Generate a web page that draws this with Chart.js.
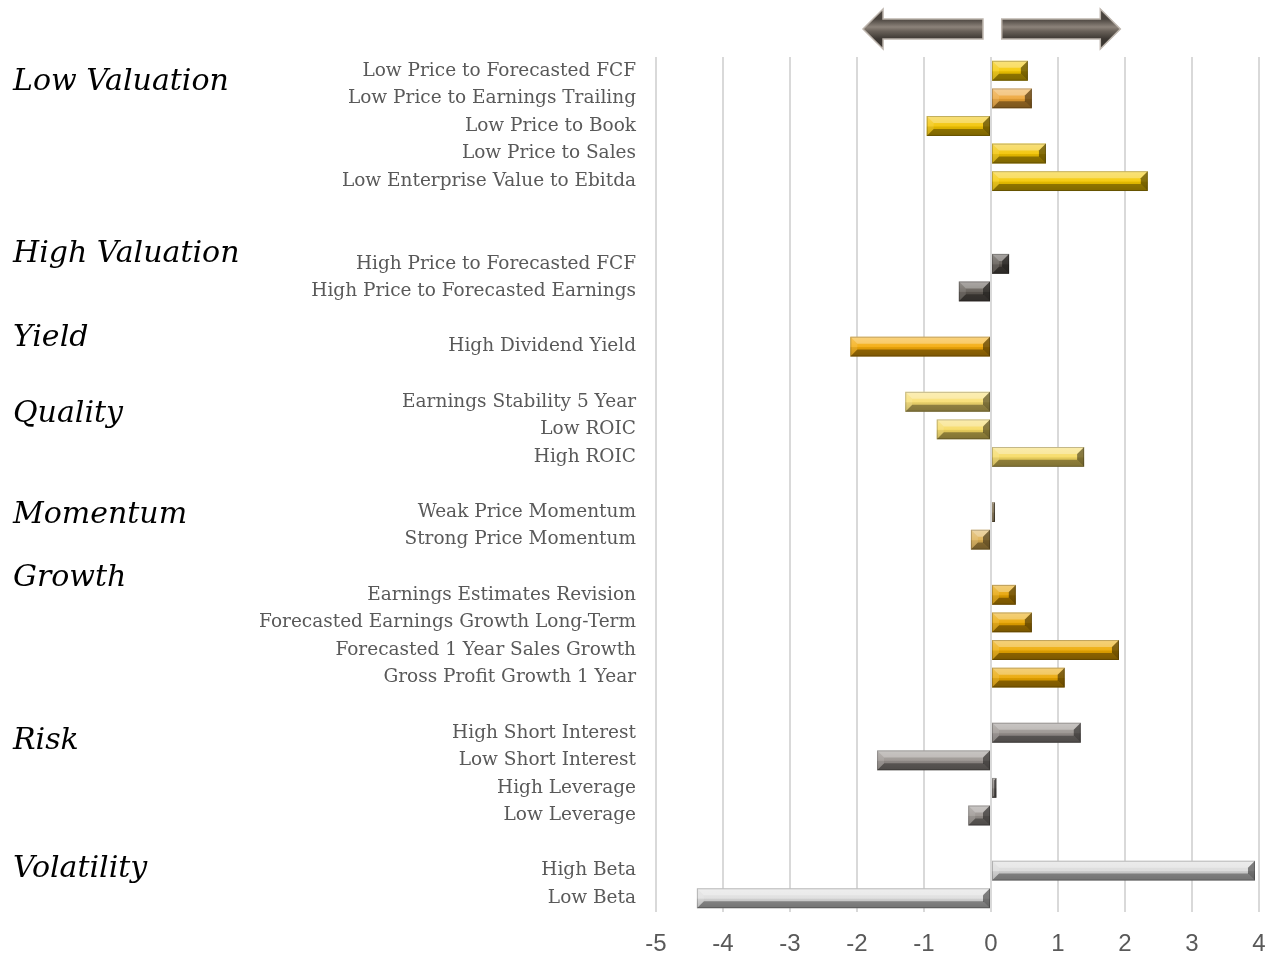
<!DOCTYPE html>
<html lang="en">
<head>
    <meta charset="UTF-8">
    <title>Factor Exposures</title>
    <script src="https://cdn.jsdelivr.net/npm/chart.js"></script>
    <style>
        html, body {
            margin: 0;
            padding: 0;
            background-color: #ffffff;
        }

        .chart-wrap {
            position: relative;
            width: 1266px;
            height: 956px;
        }
    </style>
</head>
<body>
    <div class="chart-wrap">
        <canvas id="factor-chart"></canvas>
    </div>

    <script>
        // Row labels (empty strings are spacer rows)
        const factorLabels = [
            "Low Price to Forecasted FCF",
            "Low Price to Earnings Trailing",
            "Low Price to Book",
            "Low Price to Sales",
            "Low Enterprise Value to Ebitda",
            "",
            "",
            "High Price to Forecasted FCF",
            "High Price to Forecasted Earnings",
            "",
            "High Dividend Yield",
            "",
            "Earnings Stability 5 Year",
            "Low ROIC",
            "High ROIC",
            "",
            "Weak Price Momentum",
            "Strong Price Momentum",
            "",
            "Earnings Estimates Revision",
            "Forecasted Earnings Growth Long-Term",
            "Forecasted 1 Year Sales Growth",
            "Gross Profit Growth 1 Year",
            "",
            "High Short Interest",
            "Low Short Interest",
            "High Leverage",
            "Low Leverage",
            "",
            "High Beta",
            "Low Beta"
        ];

        // Exposure values
        const factorValues = [
            0.55, 0.61, -0.96, 0.82, 2.34,
            null, null,
            0.27, -0.48,
            null,
            -2.1,
            null,
            -1.28, -0.81, 1.39,
            null,
            0.06, -0.3,
            null,
            0.37, 0.61, 1.91, 1.1,
            null,
            1.34, -1.7, 0.08, -0.34,
            null,
            3.94, -4.39
        ];

        const barColors = [
            "#f5c800", "#eda436", "#f2c300", "#f2c300", "#f5c800",
            null, null,
            "#57514b", "#5e5852",
            null,
            "#f4aa08",
            null,
            "#f8de70", "#f6da62", "#f6da62",
            null,
            "#a8936a", "#dcaf52",
            null,
            "#e6a200", "#eaa600", "#eda900", "#eaa600",
            null,
            "#97918d", "#97918d", "#86807c", "#97918d",
            null,
            "#dadada", "#dedede"
        ];

        // Group headings and the row they sit against
        const groupNames = ["Low Valuation", "High Valuation", "Yield", "Quality", "Momentum", "Growth", "Risk", "Volatility"];
        const groupRows = [0.4, 6.65, 9.7, 12.45, 16.1, 18.4, 24.3, 28.95];

        const xTicks = [-5, -4, -3, -2, -1, 0, 1, 2, 3, 4];

        // Bevel overlay so the bars look like the embossed Excel bars
        const bevelPlugin = {
            id: "bevel",
            afterDatasetsDraw(chart) {
                const ctx = chart.ctx;
                const meta = chart.getDatasetMeta(0);
                meta.data.forEach((bar, i) => {
                    if (factorValues[i] === null) return;
                    const p = bar.getProps(["x", "y", "base", "height"], true);
                    const l = Math.min(p.x, p.base);
                    const r = Math.max(p.x, p.base);
                    const t = p.y - p.height / 2;
                    const b = p.y + p.height / 2;
                    const bv = Math.min(7, (r - l) / 2, (b - t) / 2);
                    ctx.save();
                    // face shading
                    const g = ctx.createLinearGradient(0, t, 0, b);
                    g.addColorStop(0, "rgba(255,255,255,0.25)");
                    g.addColorStop(0.5, "rgba(255,255,255,0.08)");
                    g.addColorStop(0.55, "rgba(0,0,0,0.08)");
                    g.addColorStop(1, "rgba(0,0,0,0.2)");
                    ctx.fillStyle = g;
                    ctx.fillRect(l, t, r - l, b - t);
                    const poly = (pts, fill) => {
                        ctx.beginPath();
                        ctx.moveTo(pts[0][0], pts[0][1]);
                        pts.slice(1).forEach(q => ctx.lineTo(q[0], q[1]));
                        ctx.closePath();
                        ctx.fillStyle = fill;
                        ctx.fill();
                    };
                    poly([[l, t], [r, t], [r - bv, t + bv], [l + bv, t + bv]], "rgba(255,255,255,0.3)");
                    poly([[l, b], [r, b], [r - bv, b - bv], [l + bv, b - bv]], "rgba(0,0,0,0.35)");
                    poly([[l, t], [l + bv, t + bv], [l + bv, b - bv], [l, b]], "rgba(255,255,255,0.1)");
                    poly([[r, t], [r - bv, t + bv], [r - bv, b - bv], [r, b]], "rgba(0,0,0,0.45)");
                    ctx.strokeStyle = "rgba(0,0,0,0.22)";
                    ctx.lineWidth = 1;
                    ctx.strokeRect(l + 0.5, t + 0.5, r - l - 1, b - t - 1);
                    ctx.restore();
                });
            }
        };

        // Group headings and the two arrows on top
        const decorPlugin = {
            id: "decor",
            afterDraw(chart) {
                const ctx = chart.ctx;
                const yScale = chart.scales.y;
                const xScale = chart.scales.x;
                ctx.save();
                ctx.fillStyle = "#000000";
                ctx.font = "italic 30px 'DejaVu Serif', serif";
                ctx.textAlign = "left";
                ctx.textBaseline = "middle";
                groupNames.forEach((name, i) => {
                    ctx.fillText(name, 13, yScale.getPixelForValue(groupRows[i]));
                });

                const drawArrow = (x0, x1, dir) => {
                    const yc = 29, sh = 10, hh = 20, hl = 20;
                    const tip = dir < 0 ? x0 : x1;
                    const tail = dir < 0 ? x1 : x0;
                    const neck = tip - dir * hl;
                    ctx.beginPath();
                    ctx.moveTo(tail, yc - sh);
                    ctx.lineTo(neck, yc - sh);
                    ctx.lineTo(neck, yc - hh);
                    ctx.lineTo(tip, yc);
                    ctx.lineTo(neck, yc + hh);
                    ctx.lineTo(neck, yc + sh);
                    ctx.lineTo(tail, yc + sh);
                    ctx.closePath();
                    const g = ctx.createLinearGradient(0, yc - sh, 0, yc + sh);
                    g.addColorStop(0, "#4a443e");
                    g.addColorStop(0.4, "#8c837a");
                    g.addColorStop(0.6, "#6a625a");
                    g.addColorStop(1, "#3c3732");
                    ctx.fillStyle = g;
                    ctx.fill();
                    ctx.strokeStyle = "#bdb5ad";
                    ctx.lineWidth = 1.5;
                    ctx.stroke();
                };
                drawArrow(xScale.getPixelForValue(-1.91), xScale.getPixelForValue(-0.12), -1);
                drawArrow(xScale.getPixelForValue(0.16), xScale.getPixelForValue(1.93), 1);
                ctx.restore();
            }
        };

        const ctx = document.getElementById("factor-chart").getContext("2d");

        new Chart(ctx, {
            type: "bar",
            data: {
                labels: factorLabels,
                datasets: [{
                    data: factorValues,
                    backgroundColor: barColors,
                    borderWidth: 0,
                    barPercentage: 0.72,
                    categoryPercentage: 1.0
                }]
            },
            plugins: [bevelPlugin, decorPlugin],
            options: {
                indexAxis: "y",
                responsive: true,
                maintainAspectRatio: false,
                animation: false,
                layout: {
                    padding: { top: 57, right: 7, left: 0, bottom: 0 }
                },
                plugins: {
                    legend: { display: false },
                    tooltip: { enabled: false }
                },
                scales: {
                    x: {
                        min: -5,
                        max: 4,
                        afterBuildTicks: (scale) => {
                            scale.ticks = xTicks.map(v => ({ value: v }));
                        },
                        afterFit: (scale) => {
                            scale.height = 44;
                            scale.paddingLeft = 0;
                            scale.paddingRight = 0;
                        },
                        grid: {
                            color: "#d9d9d9",
                            lineWidth: 2,
                            drawTicks: false
                        },
                        border: { display: false },
                        ticks: {
                            color: "#595959",
                            padding: 18,
                            font: { family: "'Liberation Sans', Arial, sans-serif", size: 24 }
                        }
                    },
                    y: {
                        afterFit: (scale) => {
                            scale.width = 656;
                        },
                        grid: { display: false },
                        border: { display: false },
                        ticks: {
                            autoSkip: false,
                            color: "#595959",
                            padding: 12,
                            font: { family: "'DejaVu Serif', Georgia, serif", size: 18.5 }
                        }
                    }
                }
            }
        });
    </script>
</body>
</html>
